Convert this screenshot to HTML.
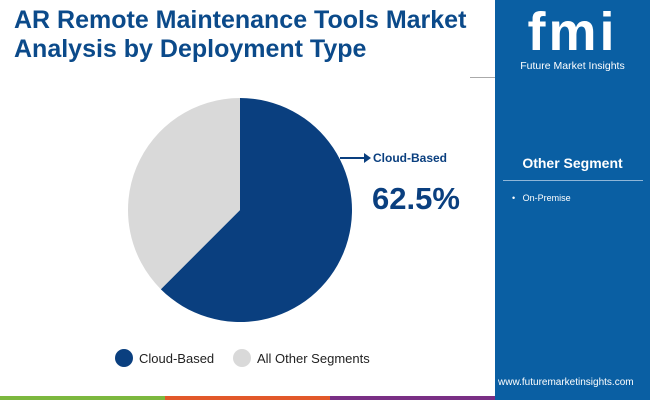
<!DOCTYPE html>
<html><head><meta charset="utf-8"><style>
body{margin:0;width:650px;height:400px;position:relative;overflow:hidden;background:#fff;font-family:"Liberation Sans",sans-serif}
.abs{position:absolute}
</style></head><body>
<div class="abs" style="left:14px;top:6px;font-size:25px;font-weight:bold;color:#0b4a8a;line-height:29px;white-space:nowrap">AR Remote Maintenance Tools Market<br>Analysis by Deployment Type</div>
<div class="abs" style="left:495px;top:0;width:155px;height:400px;background:#0a5fa3"></div>
<div class="abs" style="left:495px;top:4px;width:155px;text-align:center;color:#fff">
<div style="font-size:54px;font-weight:bold;line-height:56px;letter-spacing:3px">fmi</div>
<div style="font-size:10.5px">Future Market Insights</div></div>
<div class="abs" style="left:470px;top:77px;width:25px;height:1px;background:#aaa"></div>
<div class="abs" style="left:495px;top:155px;width:155px;text-align:center;color:#fff;font-weight:bold;font-size:14px">Other Segment</div>
<div class="abs" style="left:503px;top:180px;width:140px;height:1px;background:#8fb6d8"></div>
<div class="abs" style="left:512px;top:193px;color:#fff;font-size:9px">•&nbsp;&nbsp;&nbsp;On-Premise</div>
<div class="abs" style="left:498px;top:377px;color:#fff;font-size:10px">www.futuremarketinsights.com</div>
<svg class="abs" style="left:0;top:0" width="495" height="400">
<g id="pie"></g>
<line x1="340" y1="158" x2="364" y2="158" stroke="#0a3f7f" stroke-width="2"/>
<polygon points="364,153 371,158 364,163" fill="#0a3f7f"/>
<text x="373" y="162" font-size="12" font-weight="bold" fill="#0a3f7f">Cloud-Based</text>
<text x="372" y="209" font-size="31" font-weight="bold" fill="#0a3f7f">62.5%</text>
<circle cx="124" cy="358" r="9" fill="#0a3f7f"/>
<text x="139" y="363" font-size="13" fill="#222">Cloud-Based</text>
<circle cx="242" cy="358" r="9" fill="#d9d9d9"/>
<text x="257" y="363" font-size="13" fill="#222">All Other Segments</text>
</svg>
<div class="abs" style="left:0;top:396px;width:165px;height:4px;background:#7cb83e"></div>
<div class="abs" style="left:165px;top:396px;width:165px;height:4px;background:#e2582a"></div>
<div class="abs" style="left:330px;top:396px;width:165px;height:4px;background:#7a2f85"></div>
<script>
const categories=["Cloud-Based","All Other Segments"];
const values=[62.5,37.5];
const colors=["#0a3f7f","#d9d9d9"];
const cx=240,cy=210,r=112;
const g=document.getElementById('pie');
const total=values.reduce((a,b)=>a+b,0);
let a0=0;
values.forEach((v,i)=>{
 const a1=a0+v/total*2*Math.PI;
 const x0=cx+r*Math.sin(a0),y0=cy-r*Math.cos(a0),x1=cx+r*Math.sin(a1),y1=cy-r*Math.cos(a1);
 const p=document.createElementNS('http://www.w3.org/2000/svg','path');
 p.setAttribute('d',`M${cx},${cy}L${x0},${y0}A${r},${r} 0 ${a1-a0>Math.PI?1:0} 1 ${x1},${y1}Z`);
 p.setAttribute('fill',colors[i]);
 
 
 g.appendChild(p);
 a0=a1;
});
</script>
</body></html>
